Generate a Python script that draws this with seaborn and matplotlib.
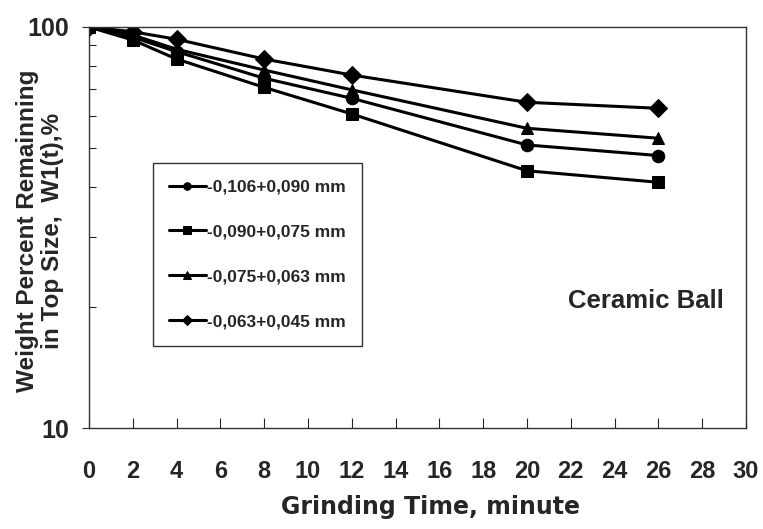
import pandas as pd
import seaborn as sns
from matplotlib import pyplot as plt
from matplotlib.ticker import FixedLocator, NullFormatter

# Datos (tiempo de molienda, % remanente)
time_min = [0, 2, 4, 8, 12, 20, 26]
sizes = ['-0,106+0,090 mm', '-0,090+0,075 mm', '-0,075+0,063 mm', '-0,063+0,045 mm']
w_106_090 = [100, 94.3, 86.8, 74.5, 66.4, 50.8, 47.8]
w_090_075 = [100, 92.8, 83.2, 70.7, 60.7, 43.8, 41.0]
w_075_063 = [100, 95.5, 88.0, 78.1, 69.7, 55.9, 52.8]
w_063_045 = [100, 97.3, 93.2, 83.2, 75.9, 64.9, 62.7]
x_ticks = list(range(0, 31, 2))

series = [w_106_090, w_090_075, w_075_063, w_063_045]
df = pd.concat([pd.DataFrame({'t': time_min, 'w': vals, 'size': name})
                for name, vals in zip(sizes, series)], ignore_index=True)

sns.set_style('white')
plt.rcParams['font.family'] = ['Liberation Sans', 'DejaVu Sans']
plt.rcParams['font.weight'] = 'bold'

fig = plt.figure(figsize=(7.63, 5.29), dpi=100)
ax = fig.add_axes([89 / 763, 1 - 428 / 529, 657 / 763, 401 / 529])

sns.lineplot(data=df, x='t', y='w', hue='size', style='size', hue_order=sizes,
             style_order=sizes, palette=['black'] * 4, markers=['o', 's', '^', 'D'],
             dashes=False, linewidth=2.2, markersize=9, markeredgecolor='black',
             ax=ax)

ax.set_yscale('log')
ax.set_xlim(0, 30)
ax.set_ylim(10, 100)
ax.xaxis.set_major_locator(FixedLocator(x_ticks))
ax.set_xticklabels([str(v) for v in x_ticks], fontsize=17, fontweight='bold')
ax.yaxis.set_major_locator(FixedLocator([10, 100]))
ax.set_yticklabels(['10', '100'], fontsize=18, fontweight='bold')
ax.yaxis.set_minor_locator(FixedLocator([20, 30, 40, 50, 60, 70, 80, 90]))
ax.yaxis.set_minor_formatter(NullFormatter())

ax.tick_params(axis='x', direction='in', length=7, width=0.8, pad=23, bottom=True)
ax.tick_params(axis='y', which='major', direction='out', length=5, width=0.8, pad=9, left=True)
ax.tick_params(axis='y', which='minor', direction='in', length=5, width=0.8, left=True)

for sp in ax.spines.values():
    sp.set_color('#333333')
    sp.set_linewidth(1.0)

# Etiquetas de los ejes
ax.set_xlabel('Grinding Time, minute', fontsize=17, fontweight='bold',
              family='DejaVu Sans')
ax.xaxis.set_label_coords(0.52, -0.168)
ax.set_ylabel('')
fig.text(40 / 763, 1 - 231 / 529, 'Weight Percent Remainning\nin Top Size,  W1(t),%',
         rotation=90, ha='center', va='center', multialignment='center',
         fontsize=17.5, fontweight='bold', linespacing=1.15)

ax.text(25.43, 20.7, 'Ceramic Ball', ha='center', va='center', fontsize=18.5, fontweight='bold')

leg = ax.legend(loc='upper left', bbox_to_anchor=(0.097, 0.661), borderaxespad=0,
                frameon=True, fancybox=False, edgecolor='#333333', framealpha=1,
                prop={'size': 12.5, 'weight': 'bold'}, labelspacing=1.71,
                handlelength=2.1, handletextpad=0.05, borderpad=0.95, markerscale=0.6)
leg.get_frame().set_linewidth(1.0)

fig.savefig('out.png', dpi=100)
